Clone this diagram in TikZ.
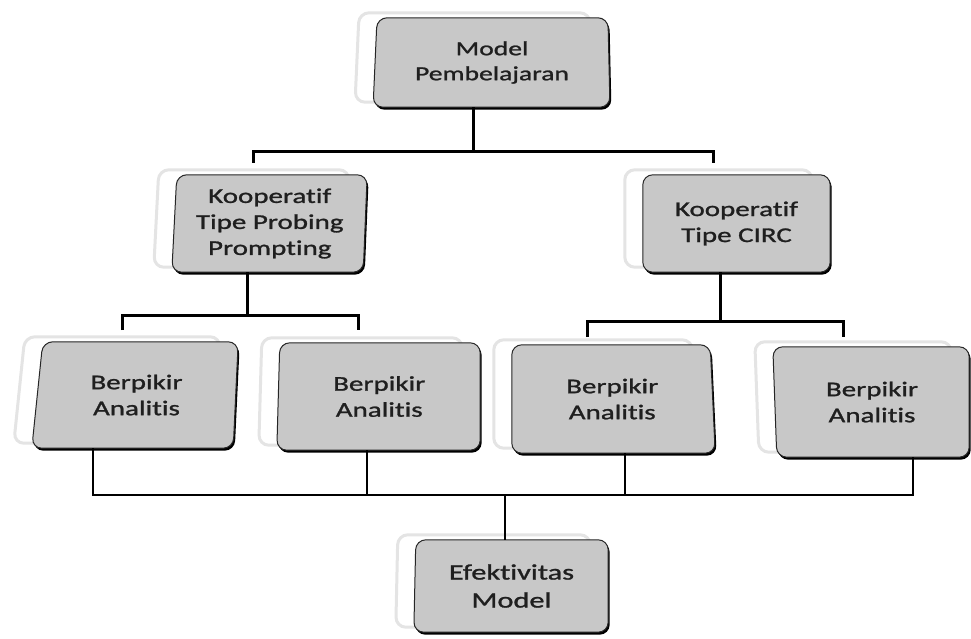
\documentclass[tikz,border=0pt]{standalone}
\usepackage{fontspec}
\newfontfamily\boxfont{Carlito}[FakeStretch=1.38,FakeBold=1.2,Ligatures={NoCommon,NoRare}]
\usetikzlibrary{calc,backgrounds}
\definecolor{boxgray}{RGB}{200,200,200}
\definecolor{backedge}{RGB}{228,228,228}
\tikzset{
  pnode/.style={inner sep=0pt, align=center, text=black!88, font=\boxfont\fontsize{21}{26}\selectfont},
  backpanel/.style={fill=white, draw=backedge, line width=3pt, rounded corners=10pt},
  shadowpanel/.style={fill=black, rounded corners=10pt},
  mainpanel/.style={fill=boxgray, draw=black!85, line width=1pt, rounded corners=10pt},
  bigconn/.style={line width=3pt, black},
  thinconn/.style={line width=1.6pt, black},
}
\newcommand\panelshape[6]{%
  \path[#1] ($(#2.north west)+({(#3)/2+(#5)},{#6})$) --
            ($(#2.north east)+({(#4)/2+(#5)},{#6})$) --
            ($(#2.south east)+({-(#4)/2+(#5)},{#6})$) --
            ($(#2.south west)+({-(#3)/2+(#5)},{#6})$) -- cycle;}
\newcommand\panel[3]{%
  \panelshape{backpanel}{#1}{#2}{#3}{-18}{-5}%
  \panelshape{shadowpanel}{#1}{#2}{#3}{1.5}{2.5}%
  \panelshape{mainpanel}{#1}{#2}{#3}{0}{0}}
\begin{document}
\begin{tikzpicture}[x=1pt,y=-1pt]
\useasboundingbox (0,0) rectangle (971,639);
% nodes
\node[pnode, minimum width=233.5pt, minimum height=89pt, font=\boxfont\fontsize{20}{25}\selectfont] (top) at (492,62.5) {Model\\Pembelajaran};
\node[pnode, minimum width=190.5pt, minimum height=97pt] (probing) at (269.75,223.5) {Kooperatif\\Tipe Probing\\Prompting};
\node[pnode, minimum width=187pt, minimum height=97pt] (circ) at (736.5,223.5) {Kooperatif\\Tipe CIRC};
\node[pnode, minimum width=198pt, minimum height=106pt] (ba) at (136.5,395) {Berpikir\\Analitis};
\node[pnode, minimum width=201.5pt, minimum height=107pt] (bb) at (379.25,396.5) {Berpikir\\Analitis};
\node[pnode, minimum width=200.5pt, minimum height=108pt] (bc) at (612.25,399) {Berpikir\\Analitis};
\node[pnode, minimum width=194pt, minimum height=110pt] (bd) at (872,402) {Berpikir\\Analitis};
\node[pnode, minimum width=193pt, minimum height=92pt, font=\boxfont\fontsize{22}{28}\selectfont] (ef) at (511.5,586) {Efektivitas\\Model};
% panels
\begin{scope}[on background layer]
  \panel{top}{4}{-2}
  \panel{probing}{5}{4}
  \panel{circ}{0}{0}
  \panel{ba}{11}{5}
  \panel{bb}{3}{0}
  \panel{bc}{0}{-5}
  \panel{bd}{-4}{0}
  \panel{ef}{2}{0}
\end{scope}
% connector points
\coordinate (j0) at (473,152);
\coordinate (k1) at (253,163);
\coordinate (k2) at (713,163);
\coordinate (j1) at (247,315);
\coordinate (k3) at (122,330);
\coordinate (k4) at (358,330);
\coordinate (j2) at (720,321);
\coordinate (k5) at (587,337);
\coordinate (k6) at (843,337);
\coordinate (jb) at (505,495);
\coordinate (aA) at ([xshift=-43.5pt]ba.south);
\coordinate (aB) at ([xshift=-12pt]bb.south);
\coordinate (aC) at ([xshift=13pt]bc.south);
\coordinate (aD) at ([xshift=41pt]bd.south);
% connectors
\draw[bigconn] (top.south -| j0) -- (j0);
\draw[bigconn] (k1) |- (j0) -| (k2);
\draw[bigconn] (probing.south -| j1) -- (j1);
\draw[bigconn] (k3) |- (j1) -| (k4);
\draw[bigconn] (circ.south -| j2) -- (j2);
\draw[bigconn] (k5) |- (j2) -| (k6);
\draw[thinconn] (aA) |- (jb) -| (aD);
\draw[thinconn] (aB) -- (aB |- jb);
\draw[thinconn] (aC) -- (aC |- jb);
\draw[thinconn] (jb) -- (jb |- ef.north);
\end{tikzpicture}
\end{document}
